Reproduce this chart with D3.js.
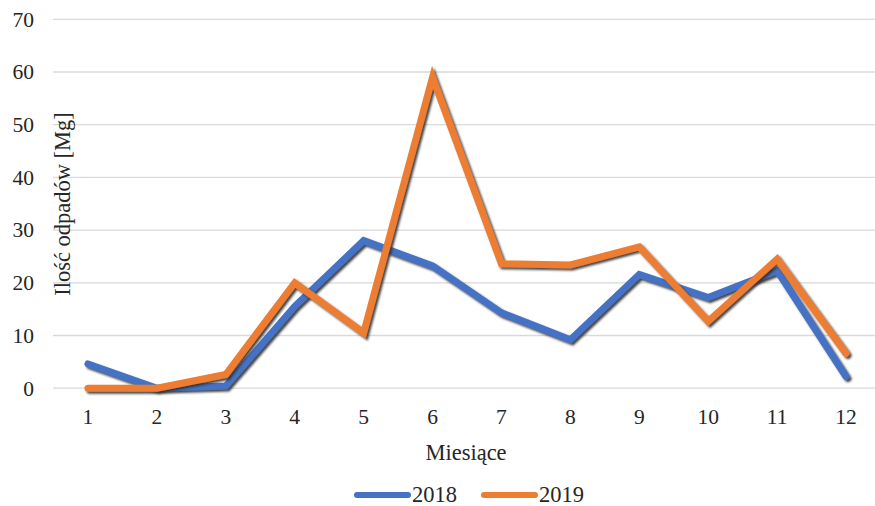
<!DOCTYPE html>
<html><head><meta charset="utf-8">
<script src="https://cdn.jsdelivr.net/npm/d3@7"></script>
<style>html,body{margin:0;padding:0;background:#fff;overflow:hidden}</style>
</head><body><svg id="c" width="875" height="506"></svg>
<script>
const months = ["1","2","3","4","5","6","7","8","9","10","11","12"];
const s2018 = [4.6, 0, 0.4, 15.5, 28, 23.2, 14.3, 9.2, 21.6, 17.2, 22.3, 2.2];
const s2019 = [0, 0, 2.6, 20, 10.5, 59, 23.6, 23.4, 26.8, 12.7, 24.5, 6.6];
const yTicks = [0,10,20,30,40,50,60,70];
const seriesNames = ["2018","2019"];
const colors = ["#4472C4","#ED7D31"];

const svg = d3.select("#c");
const font = "'Liberation Serif','Times New Roman',serif";
const x = d3.scaleBand().domain(months).range([53.5, 880.5]);
const y = d3.scaleLinear().domain([0,70]).range([388.2, 19.3]);

const defs = svg.append("defs");
const f = defs.append("filter").attr("id","sh").attr("x","-10%").attr("y","-10%").attr("width","120%").attr("height","120%");
f.append("feDropShadow").attr("dx",2).attr("dy",2).attr("stdDeviation",1).attr("flood-color","#333").attr("flood-opacity",0.9);

// gridlines
svg.append("g").selectAll("line").data(yTicks).join("line")
  .attr("x1",53).attr("x2",875).attr("y1",d=>y(d)).attr("y2",d=>y(d))
  .attr("stroke","#d9d9d9").attr("stroke-width",1.3);

// y axis labels
const ya = svg.append("g").attr("transform","translate(34,0)")
  .call(d3.axisLeft(y).tickValues(yTicks).tickSize(0).tickPadding(0));
ya.select(".domain").remove();
ya.selectAll("text").attr("font-family",font).attr("font-size",21.5).attr("fill","#262626");

// x axis labels
const xa = svg.append("g").attr("transform","translate(0,404)")
  .call(d3.axisBottom(x).tickSize(0).tickPadding(5));
xa.select(".domain").remove();
xa.selectAll("text").attr("font-family",font).attr("font-size",21.5).attr("fill","#262626");

// titles
svg.append("text").attr("transform","translate(70,204) rotate(-90)").attr("text-anchor","middle")
  .attr("font-family",font).attr("font-size",22.5).attr("fill","#262626").text("Ilość odpadów [Mg]");
svg.append("text").attr("x",466).attr("y",460).attr("text-anchor","middle")
  .attr("font-family",font).attr("font-size",22.5).attr("fill","#262626").text("Miesiące");

// lines
const line = d3.line().x((d,i)=>x(months[i])+x.bandwidth()/2).y(d=>y(d));
[s2018, s2019].forEach((s,k)=>{
  svg.append("path").datum(s).attr("d",line).attr("fill","none")
    .attr("stroke",colors[k]).attr("stroke-width",7).attr("stroke-linejoin","miter")
    .attr("stroke-linecap","round").attr("filter","url(#sh)");
});

// legend
const leg = [{x:355},{x:482}];
seriesNames.forEach((n,k)=>{
  const lx = leg[k].x;
  svg.append("line").attr("x1",lx+2).attr("x2",lx+53).attr("y1",495).attr("y2",495)
    .attr("stroke",colors[k]).attr("stroke-width",6).attr("stroke-linecap","round");
  svg.append("text").attr("x",lx+57).attr("y",502).attr("font-family",font).attr("font-size",22.5)
    .attr("fill","#262626").text(n);
});
</script></body></html>
